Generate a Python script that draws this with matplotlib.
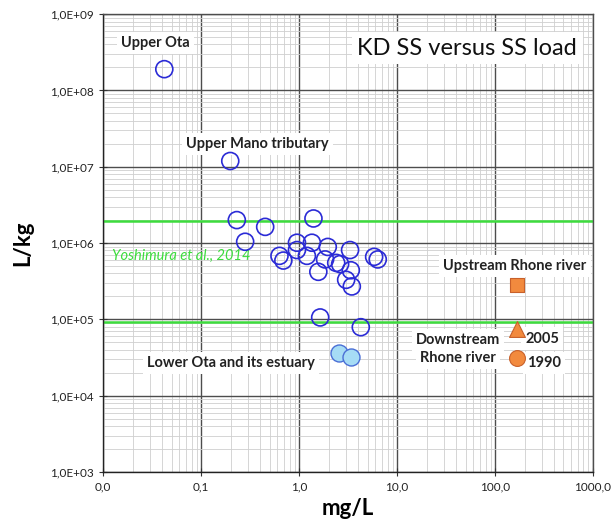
import matplotlib.pyplot as plt
from matplotlib.ticker import LogLocator, FixedLocator, FixedFormatter, NullFormatter

plt.rcParams['font.family'] = ['Lato', 'DejaVu Sans']

# Fukushima rivers (open circles), mg/L vs L/kg
ss_mgl = [0.042, 0.198, 0.231, 0.45, 0.281, 1.40, 0.95, 0.95, 1.35, 1.2, 0.63, 0.69,
          1.96, 1.84, 1.57, 2.39, 2.62, 3.31, 3.37, 3.02, 3.45, 5.83, 6.35, 1.64, 4.26]
kd_lkg = [1.9e8, 1.19e7, 2.0e6, 1.63e6, 1.04e6, 2.1e6, 1.01e6, 8.1e5, 1.01e6, 6.8e5, 6.8e5, 5.9e5,
          8.9e5, 6.1e5, 4.2e5, 5.5e5, 5.3e5, 8.1e5, 4.4e5, 3.3e5, 2.7e5, 6.6e5, 6.1e5, 1.06e5, 7.9e4]

# Lower Ota and its estuary (filled light blue)
ota_low_mgl = [2.58, 3.37]
ota_low_lkg = [3.66e4, 3.24e4]

# Rhone river
rhone_up_mgl = [169]
rhone_up_lkg = [2.8e5]
rhone_2005_mgl = [169]
rhone_2005_lkg = [7.4e4]
rhone_1990_mgl = [169]
rhone_1990_lkg = [3.1e4]

# Yoshimura et al., 2014 range
yoshimura_range = [1.95e6, 9.3e4]

x_ticks = [0.01, 0.1, 1, 10, 100, 1000]
x_labels = ['0,0', '0,1', '1,0', '10,0', '100,0', '1000,0']
y_ticks = [1e3, 1e4, 1e5, 1e6, 1e7, 1e8, 1e9]
y_labels = ['1,0E+03', '1,0E+04', '1,0E+05', '1,0E+06', '1,0E+07', '1,0E+08', '1,0E+09']

fig = plt.figure(figsize=(6.11, 5.23), dpi=100)
ax = fig.add_axes([0.169, 0.0975, 0.8015, 0.8755])
ax.set_xscale('log')
ax.set_yscale('log')
ax.set_xlim(0.01, 1000)
ax.set_ylim(1e3, 1e9)

ax.xaxis.set_major_locator(FixedLocator(x_ticks))
ax.xaxis.set_major_formatter(FixedFormatter(x_labels))
ax.yaxis.set_major_locator(FixedLocator(y_ticks))
ax.yaxis.set_major_formatter(FixedFormatter(y_labels))
ax.xaxis.set_minor_locator(LogLocator(base=10, subs=range(2, 10), numticks=20))
ax.yaxis.set_minor_locator(LogLocator(base=10, subs=range(2, 10), numticks=20))
ax.xaxis.set_minor_formatter(NullFormatter())
ax.yaxis.set_minor_formatter(NullFormatter())

ax.grid(which='major', color='#4d4d4d', linewidth=1.0)
ax.grid(which='minor', color='#cfcfcf', linewidth=0.6)
ax.set_axisbelow(True)
ax.tick_params(which='major', direction='inout', length=6, color='#333333',
               labelsize=8.5, labelcolor='#222222', pad=4)
ax.tick_params(which='minor', length=0)
for s in ax.spines.values():
    s.set_color('#4d4d4d')
    s.set_linewidth(1.0)
ax.spines['left'].set_color('#222222')
ax.spines['bottom'].set_color('#222222')

for yv in yoshimura_range:
    ax.plot([0.01, 1000], [yv, yv], color='#3ddc3d', linewidth=1.8, zorder=2)

ax.scatter(ss_mgl, kd_lkg, s=150, facecolors='none', edgecolors='#2b2bd6', linewidths=1.2, zorder=5)
ax.scatter(ota_low_mgl, ota_low_lkg, s=150, facecolors='#a6dcf5', edgecolors='#4a6fd6', linewidths=1.0, zorder=5)
ax.scatter(rhone_up_mgl, rhone_up_lkg, s=110, marker='s', facecolors='#f28a3e', edgecolors='#c8602a', linewidths=0.8, zorder=5)
ax.scatter(rhone_2005_mgl, rhone_2005_lkg, s=130, marker='^', facecolors='#f28a3e', edgecolors='#c8602a', linewidths=0.8, zorder=5)
ax.scatter(rhone_1990_mgl, rhone_1990_lkg, s=130, marker='o', facecolors='#f28a3e', edgecolors='#c8602a', linewidths=0.8, zorder=5)

box = dict(facecolor='white', edgecolor='none', pad=3)
lbl = dict(fontsize=10.5, fontweight='bold', color='#222222', transform=ax.transData, bbox=box, zorder=4)
ax.text(0.034, 4.2e8, 'Upper Ota', ha='center', va='center', **lbl)
ax.text(0.372, 1.98e7, 'Upper Mano tributary', ha='center', va='center', **lbl)
ax.text(160, 5.0e5, 'Upstream Rhone river', ha='center', va='center', **lbl)
ax.text(42, 5.36e4, 'Downstream', ha='center', va='center', **lbl)
ax.text(42, 3.1e4, 'Rhone river', ha='center', va='center', **lbl)
ax.text(204, 5.6e4, '2005', ha='left', va='center', **lbl)
ax.text(211, 2.68e4, '1990', ha='left', va='center', **lbl)
ax.text(0.202, 2.68e4, 'Lower Ota and its estuary', ha='center', va='center', **lbl)
ax.text(0.0122, 6.7e5, 'Yoshimura et al., 2014', ha='left', va='center', fontsize=10.5,
        style='italic', color='#3ddc3d', zorder=4)
ax.text(0.743, 0.926, 'KD SS versus SS load', ha='center', va='center', fontsize=17,
        color='#111111', transform=ax.transAxes, bbox=dict(facecolor='white', edgecolor='none', pad=4), zorder=4)

ax.set_xlabel('mg/L', fontsize=16, fontweight='bold', labelpad=4)
ax.set_ylabel('L/kg', fontsize=16, fontweight='bold', labelpad=12)

fig.savefig('out.png', dpi=100)
